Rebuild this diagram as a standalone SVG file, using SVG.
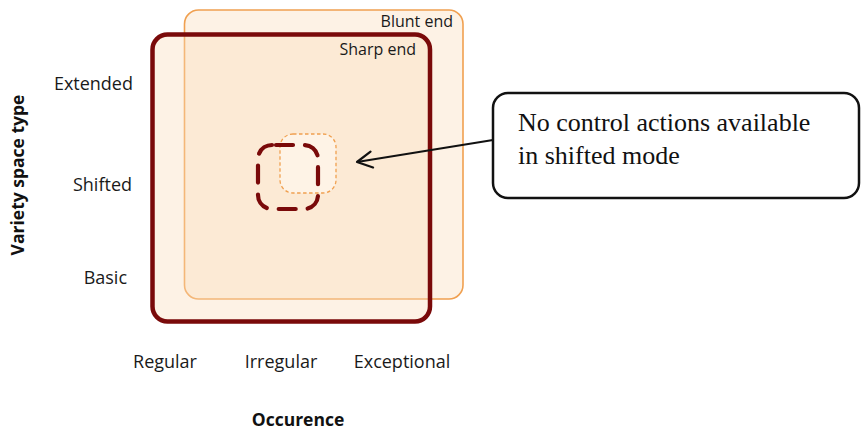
<svg xmlns="http://www.w3.org/2000/svg" width="861" height="432" viewBox="0 0 861 432">
  <defs>
    <style>
      .lbl { font-family: "Open Sans", "Noto Sans", "Liberation Sans", sans-serif; font-size: 18px; fill: #1a1a1a; }
      .tag { font-family: "Open Sans", "Noto Sans", "Liberation Sans", sans-serif; font-size: 16px; fill: #1a1a1a; }
      .axis { font-family: "Open Sans", "Noto Sans", "Liberation Sans", sans-serif; font-size: 17.5px; font-weight: bold; fill: #111; }
      .note { font-family: "Liberation Serif", "Times New Roman", serif; font-size: 26px; fill: #111; }
      .blunt { fill: #FBDDBB; fill-opacity: 0.38; stroke: #F0A050; stroke-width: 1.6; }
      .sharp { fill: #FBDDBB; fill-opacity: 0.38; stroke: #7A0A0A; stroke-width: 4.5; }
    </style>
    <marker id="chev" viewBox="0 0 20 20" refX="18" refY="10" markerWidth="20" markerHeight="20" markerUnits="userSpaceOnUse" orient="auto">
      <path d="M3,2 L18,10 L3,18" fill="none" stroke="#111" stroke-width="2.2" stroke-linecap="round" stroke-linejoin="round"/>
    </marker>
  </defs>
  <rect width="861" height="432" fill="#ffffff"/>

  <!-- blunt end region -->
  <g id="blunt-end">
    <rect class="blunt" x="184.5" y="10" width="278.5" height="289" rx="14"/>
    <text class="tag" x="453" y="27" text-anchor="end">Blunt end</text>
  </g>

  <!-- sharp end region -->
  <g id="sharp-end">
    <rect class="sharp" x="152.5" y="34.5" width="277.5" height="287" rx="15"/>
    <text class="tag" x="416" y="55" text-anchor="end">Sharp end</text>
  </g>

  <!-- shifted-mode variety spaces -->
  <g id="shifted-blunt">
    <rect x="280" y="134" width="56" height="59" rx="13" fill="#FFF6EC" fill-opacity="0.7" stroke="#F0A050" stroke-width="1.3" stroke-dasharray="3.5 2.5"/>
  </g>
  <g id="shifted-sharp">
    <rect x="258" y="145" width="60" height="64" rx="14" fill="none" stroke="#7A0A0A" stroke-width="4.2" stroke-linecap="round" stroke-dasharray="17 12" stroke-dashoffset="-4"/>
  </g>

  <!-- callout -->
  <g id="callout">
    <rect x="493" y="93" width="366" height="105" rx="15" fill="#ffffff" stroke="#111" stroke-width="2.5"/>
    <text class="note" x="518" y="131">No control actions available</text>
    <text class="note" x="518" y="164">in shifted mode</text>
  </g>

  <!-- connectors -->
  <g id="connectors">
    <line x1="493" y1="140" x2="357" y2="162" stroke="#111" stroke-width="2" marker-end="url(#chev)"/>
  </g>

  <!-- axis labels -->
  <g id="y-axis">
    <text class="axis" transform="translate(24,175) rotate(-90)" text-anchor="middle">Variety space type</text>
    <text class="lbl" x="133" y="90" text-anchor="end">Extended</text>
    <text class="lbl" x="132" y="191" text-anchor="end">Shifted</text>
    <text class="lbl" x="127" y="284" text-anchor="end">Basic</text>
  </g>
  <g id="x-axis">
    <text class="lbl" x="165" y="368" text-anchor="middle">Regular</text>
    <text class="lbl" x="281" y="368" text-anchor="middle">Irregular</text>
    <text class="lbl" x="402" y="368" text-anchor="middle">Exceptional</text>
    <text class="axis" x="298" y="426" text-anchor="middle">Occurence</text>
  </g>
</svg>
